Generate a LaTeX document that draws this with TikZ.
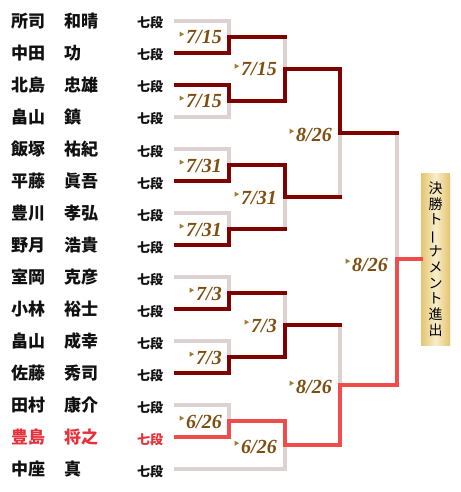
\documentclass[tikz,border=0pt]{standalone}
\usepackage{fontspec}
\usepackage{graphicx}
\setmainfont{Liberation Serif}
\newfontfamily\jp{Noto Sans CJK JP}
\definecolor{dred}{HTML}{7F0000}
\definecolor{lgray}{HTML}{DDD1D1}
\definecolor{bred}{HTML}{F04C4C}
\definecolor{nred}{HTML}{E8303A}
\definecolor{nblack}{HTML}{111111}
\definecolor{dbrown}{HTML}{7E4E10}
\definecolor{tricol}{HTML}{A27C36}
\definecolor{goldA}{HTML}{E5C470}
\definecolor{goldB}{HTML}{F8EDCB}
\begin{document}
\begin{tikzpicture}[x=1pt,y=-1pt,
  ln/.style={line width=3.8pt, line cap=rect, line join=miter},
  lose/.style={ln, draw=lgray},
  win/.style={ln, draw=dred},
  champ/.style={ln, draw=bred},
  nm/.style={anchor=base west, inner sep=0pt, font=\jp\bfseries\fontsize{17}{17}\selectfont},
  dan/.style={anchor=base west, inner sep=0pt, font=\jp\bfseries\fontsize{13}{13}\selectfont},
  dt/.style={anchor=base east, inner sep=0pt, text=dbrown, font=\bfseries\itshape\fontsize{20}{20}\selectfont},
  finbox/.style={shade, left color=goldA, right color=goldA, middle color=goldB, minimum width=29pt, minimum height=172pt, inner sep=0pt, align=center, font=\jp\fontsize{14}{15.8}\selectfont}
]
\useasboundingbox (0,0) rectangle (460,492);
\fill[white] (0,0) rectangle (460,492);
\foreach \i/\s/\g/\c in {1/所司/和晴/nblack, 2/中田/功/nblack, 3/北島/忠雄/nblack, 4/畠山/鎮/nblack, 5/飯塚/祐紀/nblack, 6/平藤/眞吾/nblack, 7/豊川/孝弘/nblack, 8/野月/浩貴/nblack, 9/室岡/克彦/nblack, 10/小林/裕士/nblack, 11/畠山/成幸/nblack, 12/佐藤/秀司/nblack, 13/田村/康介/nblack, 14/豊島/将之/nred, 15/中座/真/nblack} {
  \node[nm, text=\c] (s\i) at (11,{27.5+32*(\i-1)}) {\s};
  \node[nm, text=\c] (g\i) at (64,{27.5+32*(\i-1)}) {\g};
  \node[dan, text=\c] (d\i) at (137,{28+32*(\i-1)}) {七段};
  \coordinate (p\i) at (176,{21+32*(\i-1)});
}
% match points
\coordinate (mA1) at (229,37);
\coordinate (mA2) at (229,101);
\coordinate (mA3) at (229,165);
\coordinate (mA4) at (229,229);
\coordinate (mA5) at (229,293);
\coordinate (mA6) at (229,357);
\coordinate (mA7) at (229,421);
\coordinate (mB1) at (285,69);
\coordinate (mB2) at (285,197);
\coordinate (mB3) at (285,325);
\coordinate (mB4) at (285,445);
\coordinate (mC1) at (340,133);
\coordinate (mC2) at (340,385);
\coordinate (mD) at (397,259);
% losers
\draw[lose] (p1) -| (mA1);
\draw[lose] (p4) -| (mA2);
\draw[lose] (p5) -| (mA3);
\draw[lose] (p7) -| (mA4);
\draw[lose] (p9) -| (mA5);
\draw[lose] (p11) -| (mA6);
\draw[lose] (p13) -| (mA7);
\draw[lose] (p15) -| (mB4);
\draw[lose] (mB1 |- mA1) -- (mB1);
\draw[lose] (mB2 |- mA4) -- (mB2);
\draw[lose] (mB3 |- mA5) -- (mB3);
\draw[lose] (mC1 |- mB2) -- (mC1);
\draw[lose] (mC2 |- mB3) -- (mC2);
\draw[lose] (mD |- mC1) -- (mD);
% winners
\draw[win] (p2) -| (mA1) -- (mB1 |- mA1);
\draw[win] (p3) -| (mA2) -- (mB1 |- mA2) -- (mB1) -- (mC1 |- mB1) -- (mC1) -- (mD |- mC1);
\draw[win] (p6) -| (mA3) -- (mB2 |- mA3) -- (mB2) -- (mC1 |- mB2);
\draw[win] (p8) -| (mA4) -- (mB2 |- mA4);
\draw[win] (p10) -| (mA5) -- (mB3 |- mA5);
\draw[win] (p12) -| (mA6) -- (mB3 |- mA6) -- (mB3) -- (mC2 |- mB3);
\node[finbox] (fin) at (435.5,259) {決\\勝\\ト\\\rotatebox[origin=c]{90}{ー}\\ナ\\メ\\ン\\ト\\進\\出};
\draw[champ] (p14) -| (mA7) -- (mB4 |- mA7) -- (mB4) -- (mC2 |- mB4) -- (mC2) -- (mD |- mC2) -- (mD) -- (fin.west);
% dates (base line = digit bottom)
\node[dt] (t1) at (222,44) {7/15};
\node[dt] (t2) at (222,108) {7/15};
\node[dt] (t3) at (222,172) {7/31};
\node[dt] (t4) at (222,236) {7/31};
\node[dt] (t5) at (222,300) {7/3};
\node[dt] (t6) at (222,364) {7/3};
\node[dt] (t7) at (222,428) {6/26};
\node[dt] (u1) at (277,76) {7/15};
\node[dt] (u2) at (277,204) {7/31};
\node[dt] (u3) at (277,332) {7/3};
\node[dt] (u4) at (277,453) {6/26};
\node[dt] (v1) at (332,141) {8/26};
\node[dt] (v2) at (332,393) {8/26};
\node[dt] (w1) at (388,271) {8/26};
\foreach \n in {t1,t2,t3,t4,t5,t6,t7,u1,u2,u3,u4,v1,v2,w1}
  \fill[tricol] ([shift={(-6.5pt,12.4pt)}]\n.base west) -- ([shift={(-6.5pt,7.2pt)}]\n.base west) -- ([shift={(-2pt,9.8pt)}]\n.base west) -- cycle;
\end{tikzpicture}
\end{document}
